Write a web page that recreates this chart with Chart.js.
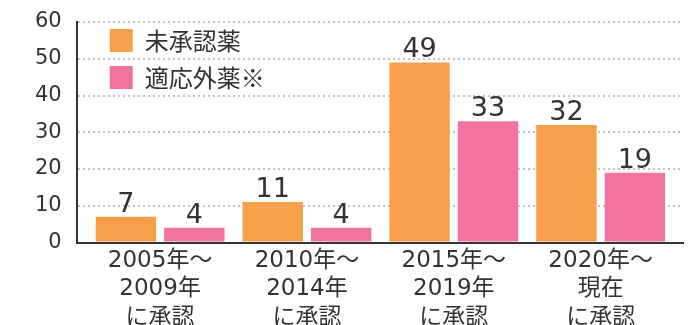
<!DOCTYPE html>
<html>
<head>
<meta charset="utf-8">
<script src="https://cdn.jsdelivr.net/npm/chart.js@4/dist/chart.umd.min.js"></script>
<style>
  html, body { margin: 0; padding: 0; background: #fff; overflow: hidden; }
  #wrap { width: 697px; height: 325px; position: relative; }
</style>
</head>
<body>
<div id="wrap"><canvas id="c"></canvas></div>
<script>
// Approval periods (multi-line category labels)
const periods = [
  ['2005年～', '2009年', 'に承認'],
  ['2010年～', '2014年', 'に承認'],
  ['2015年～', '2019年', 'に承認'],
  ['2020年～', '現在', 'に承認']
];
// Number of drugs per period
const unapproved = [7, 11, 49, 32];
const offLabel = [4, 4, 33, 19];
const seriesNames = ['未承認薬', '適応外薬※'];
const yTicks = [0, 10, 20, 30, 40, 50, 60];

const TEXT = '#333333';
const LATIN = '"DejaVu Sans", "Noto Sans CJK JP", sans-serif';
const CJK = '"Noto Sans CJK JP", "DejaVu Sans", sans-serif';

const toPoints = arr => arr.map((v, i) => ({ x: i, y: v }));

// Value labels above each bar
const valueLabels = {
  id: 'valueLabels',
  afterDatasetsDraw(chart) {
    const ctx = chart.ctx;
    ctx.save();
    ctx.font = '27px ' + LATIN;
    ctx.fillStyle = TEXT;
    ctx.textAlign = 'center';
    ctx.textBaseline = 'alphabetic';
    chart.data.datasets.forEach((ds, di) => {
      chart.getDatasetMeta(di).data.forEach((bar, i) => {
        ctx.fillText(String(ds.data[i].y), bar.x, bar.y - 5);
      });
    });
    ctx.restore();
  }
};

// Inset the legend a little inside the plot area
const legendInset = {
  id: 'legendInset',
  afterLayout(chart) {
    const lg = chart.legend;
    if (!lg) return;
    const area = chart.chartArea;
    const h = lg.bottom - lg.top;
    lg.left = area.left + 20;
    lg.right = area.right;
    lg.top = area.top - 6.5;
    lg.bottom = lg.top + h;
  }
};

// Let the layout padding alone decide the plot edges
const noEdgePadding = scale => {
  scale.paddingLeft = 0;
  scale.paddingRight = 0;
  scale.paddingTop = 0;
  scale.paddingBottom = 0;
};

new Chart(document.getElementById('c'), {
  type: 'bar',
  data: {
    datasets: [
      { label: seriesNames[0], data: toPoints(unapproved), backgroundColor: '#F7A049' },
      { label: seriesNames[1], data: toPoints(offLabel), backgroundColor: '#F073A0' }
    ]
  },
  options: {
    responsive: true,
    maintainAspectRatio: false,
    animation: false,
    devicePixelRatio: 1,
    categoryPercentage: 0.932,
    barPercentage: 0.883,
    layout: { padding: { left: 20, right: 14, top: 22, bottom: -11 } },
    scales: {
      x: {
        type: 'linear',
        offset: false,
        min: -0.568,
        max: 3.561,
        afterFit: noEdgePadding,
        grid: { display: false, drawTicks: false, offset: false },
        border: { display: true, color: '#333333', width: 2 },
        ticks: {
          stepSize: 1,
          includeBounds: false,
          autoSkip: false,
          maxRotation: 0,
          padding: 4,
          color: TEXT,
          font: { family: LATIN, size: 23, lineHeight: '28.5px' },
          callback: v => (Number.isInteger(v) && periods[v]) ? periods[v] : ''
        }
      },
      y: {
        min: 0,
        max: 60,
        afterBuildTicks: scale => { scale.ticks = yTicks.map(v => ({ value: v })); },
        afterFit: noEdgePadding,
        grid: {
          drawTicks: false,
          lineWidth: 2,
          color: ctx => (ctx.tick && ctx.tick.value === 0) ? 'rgba(0,0,0,0)' : '#c4c4c4'
        },
        border: { display: true, color: '#333333', width: 2, dash: [2, 3] },
        ticks: {
          padding: 15,
          color: TEXT,
          font: { family: LATIN, size: 21 }
        }
      }
    },
    plugins: {
      legend: {
        position: 'chartArea',
        align: 'start',
        labels: {
          boxWidth: 23,
          boxHeight: 23,
          padding: 13,
          color: TEXT,
          font: { family: CJK, size: 24 }
        }
      },
      tooltip: { enabled: false }
    }
  },
  plugins: [valueLabels, legendInset]
});
</script>
</body>
</html>
